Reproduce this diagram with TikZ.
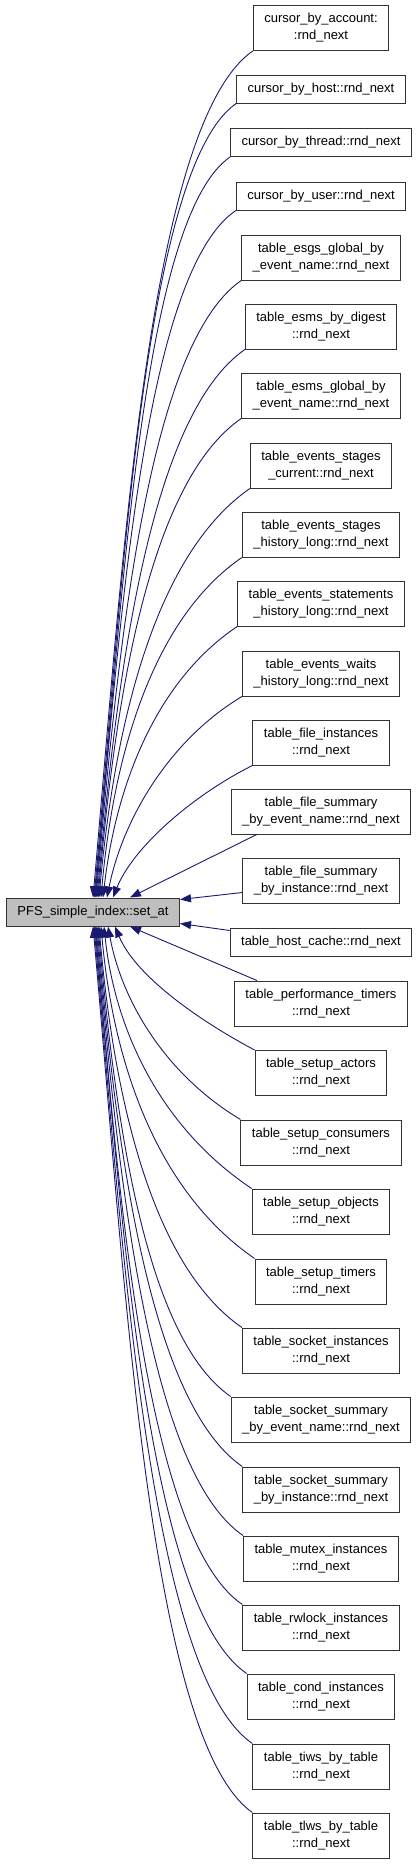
\documentclass[tikz,border=0pt]{standalone}
\usepackage{fontspec}
\setmainfont{Liberation Sans}
\usepackage{tikz}
\usetikzlibrary{arrows.meta, positioning}
\definecolor{callblue}{RGB}{25,25,112}
\definecolor{boxgray}{RGB}{191,191,191}
\tikzset{
  fnode/.style={rectangle, draw=black!80, fill=white, line width=1pt,
                inner xsep=11pt, inner ysep=0pt, minimum height=28pt,
                align=center, font=\fontsize{13}{17}\selectfont},
  fnodetwo/.style={fnode, minimum height=45pt},
  rootnode/.style={fnode, fill=boxgray},
  calledge/.style={draw=callblue, line width=0.9pt,
                   -{Triangle[length=11pt, width=8pt]}},
}
\begin{document}
\begin{tikzpicture}[x=1pt, y=-1pt]
    \useasboundingbox (0,0) rectangle (419,1864);
    % Root
    \node[rootnode] (root) at (93,912) {PFS\_simple\_index::set\_at};
    % Callers
    \node[fnodetwo] (acc)    at (321,28)    {cursor\_by\_account:\\:rnd\_next};
    \node[fnode]    (host)   at (321,89)    {cursor\_by\_host::rnd\_next};
    \node[fnode]    (thread) at (321,142.5) {cursor\_by\_thread::rnd\_next};
    \node[fnode]    (user)   at (321,196)   {cursor\_by\_user::rnd\_next};
    \node[fnodetwo] (esgs)   at (321,257.5) {table\_esgs\_global\_by\\\_event\_name::rnd\_next};
    \node[fnodetwo] (esmsd)  at (321,326.5) {table\_esms\_by\_digest\\::rnd\_next};
    \node[fnodetwo] (esmsg)  at (321,395.5) {table\_esms\_global\_by\\\_event\_name::rnd\_next};
    \node[fnodetwo] (stcur)  at (321,465.5) {table\_events\_stages\\\_current::rnd\_next};
    \node[fnodetwo] (sthist) at (321,534.5) {table\_events\_stages\\\_history\_long::rnd\_next};
    \node[fnodetwo] (sthl)   at (321,603.5) {table\_events\_statements\\\_history\_long::rnd\_next};
    \node[fnodetwo] (wthl)   at (321,673.5) {table\_events\_waits\\\_history\_long::rnd\_next};
    \node[fnodetwo] (finst)  at (321,742.5) {table\_file\_instances\\::rnd\_next};
    \node[fnodetwo] (fsev)   at (321,811.5) {table\_file\_summary\\\_by\_event\_name::rnd\_next};
    \node[fnodetwo] (fsin)   at (321,880.5) {table\_file\_summary\\\_by\_instance::rnd\_next};
    \node[fnode]    (hostc)  at (321,942)   {table\_host\_cache::rnd\_next};
    \node[fnodetwo] (perf)   at (321,1003.5) {table\_performance\_timers\\::rnd\_next};
    \node[fnodetwo] (actors) at (321,1073)  {table\_setup\_actors\\::rnd\_next};
    \node[fnodetwo] (cons)   at (321,1142.5) {table\_setup\_consumers\\::rnd\_next};
    \node[fnodetwo] (objs)   at (321,1211.5) {table\_setup\_objects\\::rnd\_next};
    \node[fnodetwo] (timers) at (321,1281.5) {table\_setup\_timers\\::rnd\_next};
    \node[fnodetwo] (sinst)  at (321,1350.5) {table\_socket\_instances\\::rnd\_next};
    \node[fnodetwo] (ssev)   at (321,1419.5) {table\_socket\_summary\\\_by\_event\_name::rnd\_next};
    \node[fnodetwo] (ssin)   at (321,1489.5) {table\_socket\_summary\\\_by\_instance::rnd\_next};
    \node[fnodetwo] (mutex)  at (321,1558.5) {table\_mutex\_instances\\::rnd\_next};
    \node[fnodetwo] (rwlock) at (321,1627.5) {table\_rwlock\_instances\\::rnd\_next};
    \node[fnodetwo] (cond)   at (321,1696.5) {table\_cond\_instances\\::rnd\_next};
    \node[fnodetwo] (tiws)   at (321,1766.5) {table\_tiws\_by\_table\\::rnd\_next};
    \node[fnodetwo] (tlws)   at (321,1835.5) {table\_tlws\_by\_table\\::rnd\_next};
    % Calls from above
    \draw[calledge] (acc.south west)    .. controls +(-104,72) and +(30,-339) .. ([xshift=0pt]root.north);
    \draw[calledge] (host.south west)   .. controls +(-92,64) and +(29,-318) .. ([xshift=1pt]root.north);
    \draw[calledge] (thread.south west) .. controls +(-88,61) and +(27,-297) .. ([xshift=2pt]root.north);
    \draw[calledge] (user.south west)   .. controls +(-92,63) and +(25,-275) .. ([xshift=2pt]root.north);
    \draw[calledge] (esgs.south west)   .. controls +(-94,65) and +(22,-247) .. ([xshift=3pt]root.north);
    \draw[calledge] (esmsd.south west)  .. controls +(-96,67) and +(20,-220) .. ([xshift=4pt]root.north);
    \draw[calledge] (esmsg.south west)  .. controls +(-94,65) and +(17,-192) .. ([xshift=5pt]root.north);
    \draw[calledge] (stcur.south west)  .. controls +(-98,68) and +(15,-164) .. ([xshift=6pt]root.north);
    \draw[calledge] (sthist.south west) .. controls +(-92,63) and +(12,-136) .. ([xshift=8pt]root.north);
    \draw[calledge] (sthl.south west)   .. controls +(-85,57) and +(12,-105) .. ([xshift=10pt]root.north);
    \draw[calledge] (wthl.south west)   .. controls +(-75,45) and +(15,-75) .. ([xshift=14pt]root.north);
    \draw[calledge] (finst.south west)  .. controls +(-60,30) and +(20,-50) .. ([xshift=20pt]root.north);
    % Nearly level calls
    \draw[calledge] ([xshift=26pt]fsev.south west) -- ([xshift=37pt]root.north);
    \draw[calledge] ([yshift=11pt]fsin.south west) -- ([yshift=-2pt]root.north east);
    \draw[calledge] ([yshift=-3pt]hostc.north west) -- ([yshift=3pt]root.south east);
    \draw[calledge] ([xshift=23pt]perf.north west) -- ([xshift=37pt]root.south);
    % Calls from below
    \draw[calledge] (actors.north west) .. controls +(-60,-32) and +(20,48) .. ([xshift=22pt]root.south);
    \draw[calledge] (cons.north west)   .. controls +(-75,-45) and +(14,75) .. ([xshift=15pt]root.south);
    \draw[calledge] (objs.north west)   .. controls +(-90,-60) and +(11,105) .. ([xshift=11pt]root.south);
    \draw[calledge] (timers.north west) .. controls +(-100,-69) and +(12,133) .. ([xshift=8pt]root.south);
    \draw[calledge] (sinst.north west)  .. controls +(-93,-64) and +(14,161) .. ([xshift=6pt]root.south);
    \draw[calledge] (ssev.north west)   .. controls +(-87,-60) and +(17,188) .. ([xshift=5pt]root.south);
    \draw[calledge] (ssin.north west)   .. controls +(-94,-65) and +(19,216) .. ([xshift=4pt]root.south);
    \draw[calledge] (mutex.north west)  .. controls +(-96,-66) and +(22,244) .. ([xshift=3pt]root.south);
    \draw[calledge] (rwlock.north west) .. controls +(-96,-66) and +(24,272) .. ([xshift=2pt]root.south);
    \draw[calledge] (cond.north west)   .. controls +(-99,-68) and +(27,299) .. ([xshift=2pt]root.south);
    \draw[calledge] (tiws.north west)   .. controls +(-103,-71) and +(29,327) .. ([xshift=1pt]root.south);
    \draw[calledge] (tlws.north west)   .. controls +(-103,-72) and +(32,355) .. ([xshift=0pt]root.south);
\end{tikzpicture}
\end{document}
